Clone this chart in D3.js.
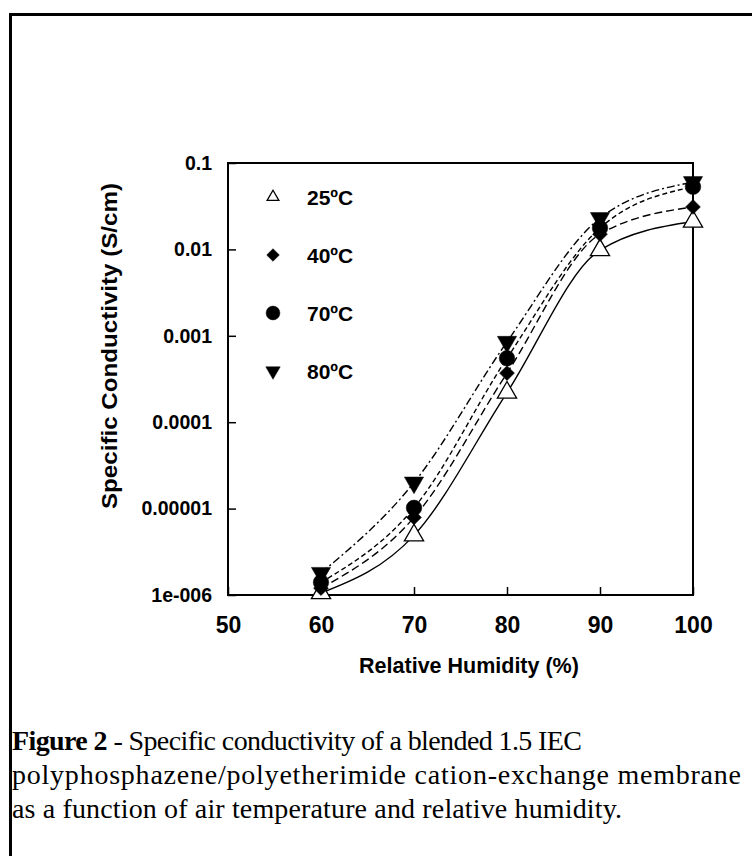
<!DOCTYPE html>
<html>
<head>
<meta charset="utf-8">
<script src="https://cdn.jsdelivr.net/npm/d3@7"></script>
<style>
  body { margin: 0; background: #fff; }
  svg { display: block; }
</style>
</head>
<body>
<svg id="chart"></svg>
<script>
// relative humidity (%) where each temperature was measured
var humidity = [60, 70, 80, 90, 100];

// specific conductivity (S/cm)
var cond25 = [1.05e-6, 4.9e-6, 2.2e-4, 0.0098, 0.021];
var cond40 = [1.2e-6, 7.9e-6, 3.7e-4, 0.015, 0.031];
var cond70 = [1.4e-6, 1.02e-5, 5.5e-4, 0.0177, 0.053];
var cond80 = [1.8e-6, 2.0e-5, 8.5e-4, 0.023, 0.060];

var seriesNames = ["25\u00baC", "40\u00baC", "70\u00baC", "80\u00baC"];

var xTicks = [50, 60, 70, 80, 90, 100];
var yTicks = [1e-6, 1e-5, 1e-4, 1e-3, 1e-2, 1e-1];
var yTickLabels = ["1e-006", "0.00001", "0.0001", "0.001", "0.01", "0.1"];

var screen = {width: 752, height: 856};
var plot = {left: 228, top: 163, right: 693, bottom: 595};

var svg = d3.select("#chart")
    .attr("width", screen.width)
    .attr("height", screen.height);

// scanned page frame
svg.append("path")
    .attr("d", "M10.5,856 L10.5,14.5 L752,14.5")
    .attr("fill", "none")
    .attr("stroke", "#000")
    .attr("stroke-width", 3);

var xScale = d3.scaleLinear()
    .domain([50, 100])
    .range([plot.left, plot.right]);

var yScale = d3.scaleLog()
    .domain([1e-6, 0.1])
    .range([plot.bottom, plot.top]);

var g = svg.append("g");

// box round the plot
g.append("rect")
    .attr("x", plot.left)
    .attr("y", plot.top)
    .attr("width", plot.right - plot.left)
    .attr("height", plot.bottom - plot.top)
    .attr("fill", "none")
    .attr("stroke", "#000")
    .attr("stroke-width", 2);

var tickFont = "'Liberation Sans', Arial, sans-serif";

// x axis, ticks point inwards
var xAxis = d3.axisBottom(xScale)
    .tickValues(xTicks)
    .tickSizeInner(-8)
    .tickSizeOuter(0)
    .tickPadding(22)
    .tickFormat(d3.format("d"));

g.append("g")
    .attr("id", "xAxis")
    .attr("transform", "translate(0," + plot.bottom + ")")
    .call(xAxis)
    .call(function(a){ a.select(".domain").remove(); })
    .call(function(a){
        a.selectAll("line").attr("stroke-width", 1.5);
        a.selectAll("text")
            .attr("font-family", tickFont)
            .attr("font-weight", "bold")
            .attr("font-size", 23)
            .attr("fill", "#000");
    });

// y axis (log)
var yAxis = d3.axisLeft(yScale)
    .tickValues(yTicks)
    .tickSizeInner(-8)
    .tickSizeOuter(0)
    .tickPadding(16)
    .tickFormat(function(d, i){ return yTickLabels[i]; });

g.append("g")
    .attr("id", "yAxis")
    .attr("transform", "translate(" + plot.left + ",0)")
    .call(yAxis)
    .call(function(a){ a.select(".domain").remove(); })
    .call(function(a){
        a.selectAll("line").attr("stroke-width", 1.5);
        a.selectAll("text")
            .attr("font-family", tickFont)
            .attr("font-weight", "bold")
            .attr("font-size", 19.5)
            .attr("fill", "#000");
    });

// axis titles
svg.append("text")
    .attr("x", 469)
    .attr("y", 673)
    .attr("text-anchor", "middle")
    .attr("font-family", tickFont)
    .attr("font-weight", "bold")
    .attr("font-size", 21.5)
    .text("Relative Humidity (%)");

svg.append("text")
    .attr("transform", "translate(117,346) rotate(-90)")
    .attr("text-anchor", "middle")
    .attr("font-family", tickFont)
    .attr("font-weight", "bold")
    .attr("font-size", 22)
    .attr("textLength", 326)
    .attr("lengthAdjust", "spacingAndGlyphs")
    .text("Specific Conductivity (S/cm)");

// curves
var allSeries = [cond25, cond40, cond70, cond80];
var dashes = [null, "8,4", "5,3", "8,3,2,3"];

var line = d3.line()
    .x(function(d, i){ return xScale(humidity[i]); })
    .y(function(d){ return yScale(d); })
    .curve(d3.curveMonotoneX);

allSeries.forEach(function(s, k){
    g.append("path")
        .datum(s)
        .attr("d", line)
        .attr("fill", "none")
        .attr("stroke", "#000")
        .attr("stroke-width", 1.4)
        .attr("stroke-dasharray", dashes[k]);
});

// markers: open triangle, diamond (square turned 45deg), dot, down triangle
var symbolTypes = [d3.symbolTriangle, d3.symbolSquare, d3.symbolCircle, d3.symbolTriangle];
var symbolTurn = [0, 45, 0, 180];
var symbolSizes = [160, 110, 190, 160];
var legendSizes = [60, 80, 150, 90];

var drawMark = function(sel, k, size){
    sel.attr("d", d3.symbol().type(symbolTypes[k]).size(size))
        .attr("fill", k === 0 ? "#fff" : "#000")
        .attr("stroke", "#000")
        .attr("stroke-width", k === 0 ? 1.3 : 0.5);
};

allSeries.forEach(function(s, k){
    g.selectAll(".m" + k)
        .data(s)
        .enter()
        .append("path")
        .attr("class", "m" + k)
        .attr("transform", function(d, i){
            return "translate(" + xScale(humidity[i]) + "," + yScale(d) + ") rotate(" + symbolTurn[k] + ")";
        })
        .call(drawMark, k, symbolSizes[k]);
});

// legend
var legend = svg.append("g")
    .attr("transform", "translate(273,197)");

seriesNames.forEach(function(name, k){
    var row = legend.append("g")
        .attr("transform", "translate(0," + (k * 58) + ")");
    row.append("path")
        .attr("transform", "rotate(" + symbolTurn[k] + ")")
        .call(drawMark, k, legendSizes[k]);
    row.append("text")
        .attr("x", 34)
        .attr("y", 8)
        .attr("font-family", tickFont)
        .attr("font-weight", "bold")
        .attr("font-size", 21)
        .text(name);
});

// caption, each line fitted to the width it has in the scan
var serif = "'Liberation Serif', 'Times New Roman', serif";
var captionFont = 28;

var cap1 = svg.append("text")
    .attr("x", 12).attr("y", 750)
    .attr("font-family", serif)
    .attr("font-size", captionFont)
    .attr("textLength", 570)
    .attr("lengthAdjust", "spacing");
cap1.append("tspan").attr("font-weight", "bold").text("Figure 2");
cap1.append("tspan").text(" - Specific conductivity of a blended 1.5 IEC");

svg.append("text")
    .attr("x", 12).attr("y", 784)
    .attr("font-family", serif)
    .attr("font-size", captionFont)
    .attr("textLength", 729)
    .attr("lengthAdjust", "spacing")
    .text("polyphosphazene/polyetherimide cation-exchange membrane");

svg.append("text")
    .attr("x", 12).attr("y", 818)
    .attr("font-family", serif)
    .attr("font-size", captionFont)
    .attr("textLength", 610)
    .attr("lengthAdjust", "spacing")
    .text("as a function of air temperature and relative humidity.");
</script>
</body>
</html>
